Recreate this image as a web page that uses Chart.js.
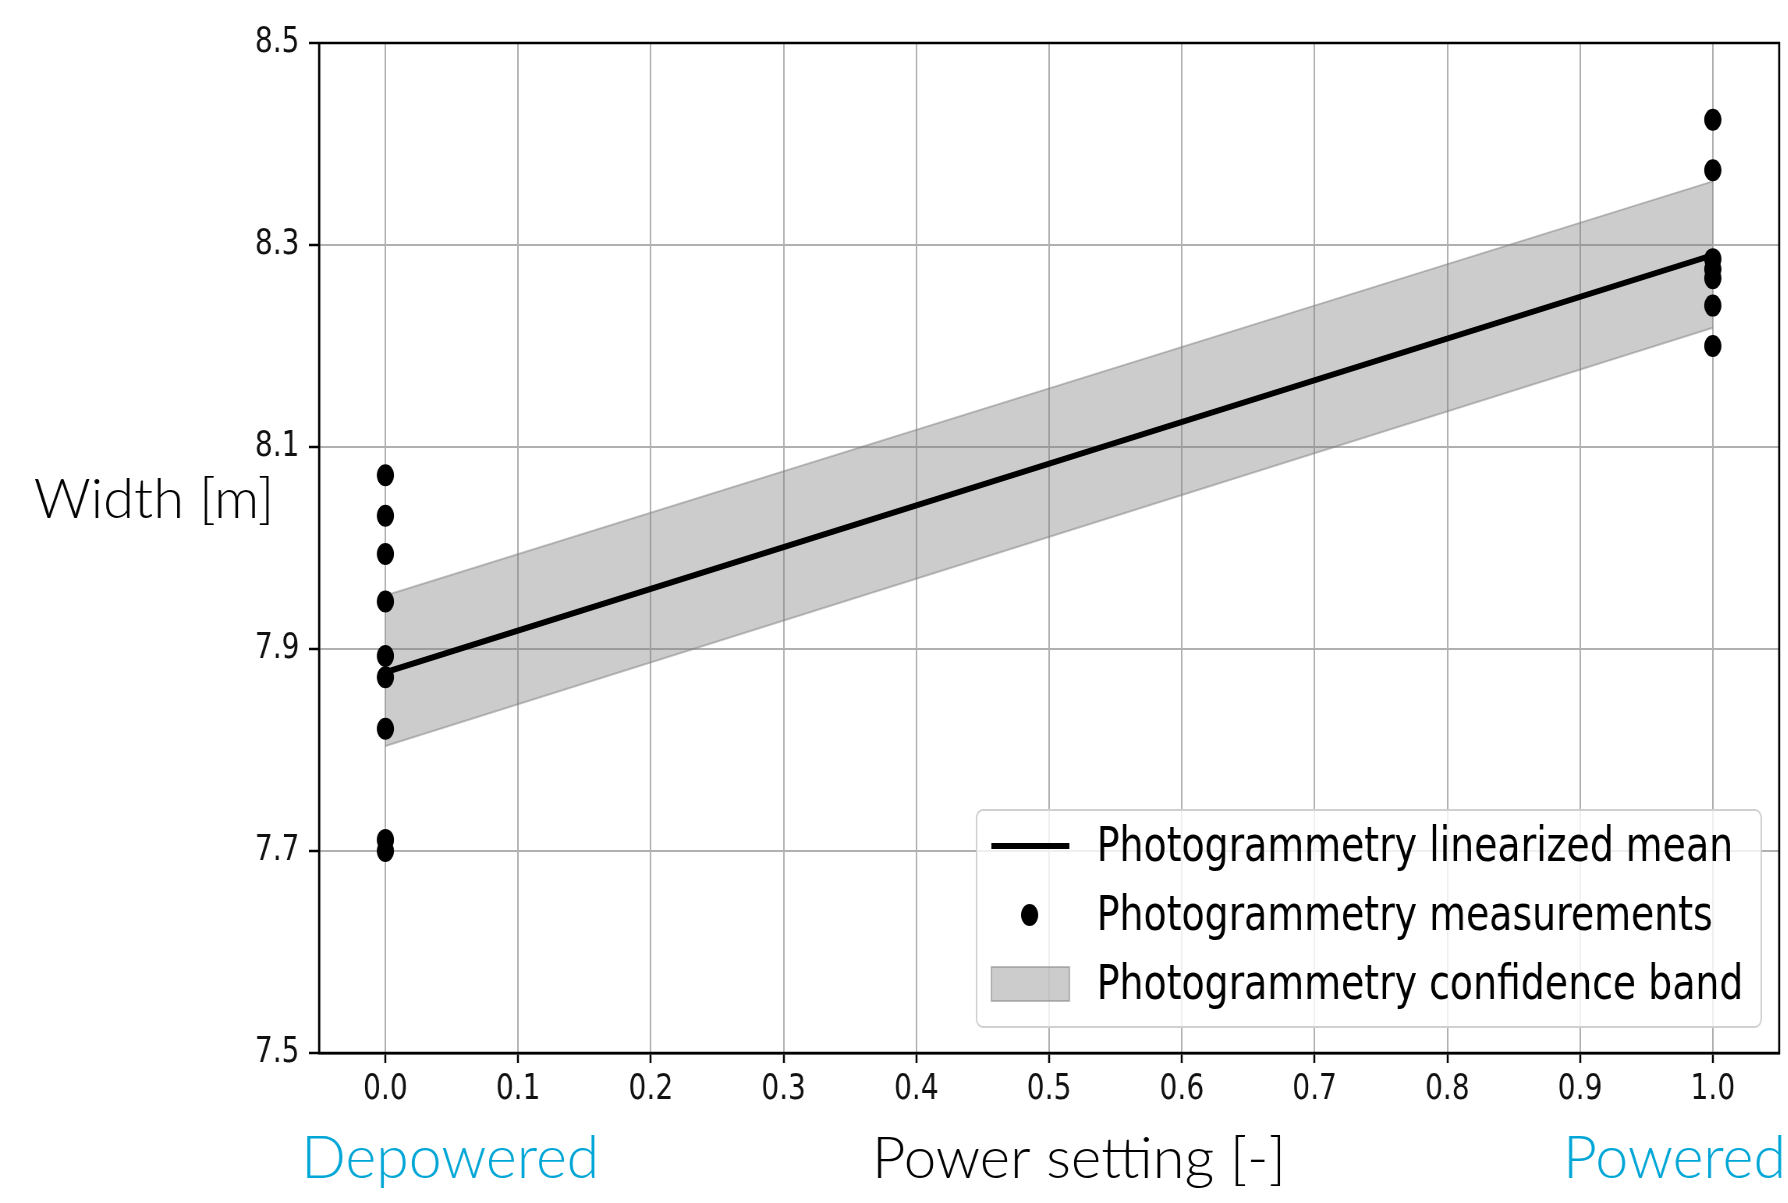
<!DOCTYPE html>
<html>
<head>
<meta charset="utf-8">
<script src="https://cdn.jsdelivr.net/npm/chart.js@4.4.1/dist/chart.umd.min.js"></script>
<style>
  html, body { margin: 0; padding: 0; background: #fff; overflow: hidden; }
  /* the source figure is squeezed sideways, so draw wide and squeeze */
  #wrap { width: 2292px; height: 1203px; transform: scaleX(0.78); transform-origin: 0 0; }
</style>
</head>
<body>
<div id="wrap"><canvas id="chart"></canvas></div>
<script>
const powerSettings = [0.0, 1.0];
const depoweredWidths = [8.072, 8.032, 7.994, 7.947, 7.893, 7.872, 7.821, 7.711, 7.700];
const poweredWidths = [8.424, 8.374, 8.286, 8.276, 8.267, 8.240, 8.200];
const meanWidth = [7.877, 8.290];
const bandUpper = [7.953, 8.363];
const bandLower = [7.804, 8.218];
const xTicks = [0.0, 0.1, 0.2, 0.3, 0.4, 0.5, 0.6, 0.7, 0.8, 0.9, 1.0];
const yTicks = [7.5, 7.7, 7.9, 8.1, 8.3, 8.5];

const SQUISH = 0.78;
const CYAN = '#00A6D6';

Chart.defaults.font.family = "'DejaVu Sans', sans-serif";

const toPoints = ys => ys.map((y, i) => ({ x: powerSettings[i], y: y }));

const measurements = [
    ...depoweredWidths.map(y => ({ x: powerSettings[0], y: y })),
    ...poweredWidths.map(y => ({ x: powerSettings[1], y: y })),
];

// text laid over the figure, not squeezed; x is given in page pixels
function drawLabel(ctx, text, pageX, baseline, align, size, color) {
    ctx.save();
    ctx.translate(pageX / SQUISH, baseline);
    ctx.scale(1 / SQUISH, 1);
    ctx.font = '300 ' + size + "px Lato, Roboto, 'Open Sans', sans-serif";
    ctx.fillStyle = color;
    ctx.textAlign = align;
    ctx.textBaseline = 'alphabetic';
    ctx.fillText(text, 0, 0);
    ctx.restore();
}

const overlay = {
    id: 'overlay',
    afterDraw(chart) {
        const ctx = chart.ctx;
        const a = chart.chartArea;
        const ds = chart.data.datasets;

        // frame on all four sides
        ctx.save();
        ctx.strokeStyle = '#000';
        ctx.lineWidth = 2.5;
        ctx.strokeRect(a.left, a.top, a.right - a.left, a.bottom - a.top);

        // legend box in lower right corner
        const w = 1006, h = 217;
        const left = a.right - 23 - w;
        const top = a.bottom - 26 - h;
        ctx.beginPath();
        ctx.roundRect(left, top, w, h, 8);
        ctx.fillStyle = 'rgba(255,255,255,0.8)';
        ctx.fill();
        ctx.strokeStyle = '#d0d0d0';
        ctx.lineWidth = 2;
        ctx.stroke();

        const rows = [top + 36, top + 105, top + 174];
        const hx0 = left + 19, hx1 = left + 119;

        // mean line
        ctx.strokeStyle = ds[1].borderColor;
        ctx.lineWidth = ds[1].borderWidth;
        ctx.beginPath();
        ctx.moveTo(hx0, rows[0]);
        ctx.lineTo(hx1, rows[0]);
        ctx.stroke();

        // measurement dot
        ctx.fillStyle = ds[0].backgroundColor;
        ctx.beginPath();
        ctx.arc(left + 68, rows[1], 11, 0, Math.PI * 2);
        ctx.fill();

        // band patch
        ctx.fillStyle = ds[2].backgroundColor;
        ctx.fillRect(hx0, rows[2] - 17, hx1 - hx0, 34);
        ctx.strokeStyle = ds[2].borderColor;
        ctx.lineWidth = 2;
        ctx.strokeRect(hx0, rows[2] - 17, hx1 - hx0, 34);

        ctx.fillStyle = '#000';
        ctx.font = "48.5px 'DejaVu Sans', sans-serif";
        ctx.textBaseline = 'middle';
        ctx.textAlign = 'left';
        [ds[1].label, ds[0].label, ds[2].label].forEach((t, i) => {
            ctx.fillText(t, left + 154, rows[i] + 2);
        });
        ctx.restore();

        drawLabel(ctx, 'Width [m]', 154, 518, 'center', 56, '#000');
        drawLabel(ctx, 'Depowered', 301, 1178, 'left', 59, CYAN);
        drawLabel(ctx, 'Power setting [-]', 872, 1178, 'left', 58, '#000');
        drawLabel(ctx, 'Powered', 1563, 1178, 'left', 59, CYAN);
    }
};

new Chart(document.getElementById('chart'), {
    type: 'scatter',
    data: {
        datasets: [
            {
                label: 'Photogrammetry measurements',
                data: measurements,
                backgroundColor: '#000',
                borderWidth: 0,
                pointRadius: 11,
            },
            {
                label: 'Photogrammetry linearized mean',
                data: toPoints(meanWidth),
                showLine: true,
                borderColor: '#000',
                borderWidth: 6,
                pointRadius: 0,
            },
            {
                label: 'Photogrammetry confidence band',
                data: toPoints(bandUpper),
                showLine: true,
                borderColor: 'rgba(128,128,128,0.5)',
                backgroundColor: 'rgba(128,128,128,0.4)',
                borderWidth: 2,
                pointRadius: 0,
                fill: '+1',
            },
            {
                data: toPoints(bandLower),
                showLine: true,
                borderColor: 'rgba(128,128,128,0.5)',
                borderWidth: 2,
                pointRadius: 0,
                fill: false,
            },
        ],
    },
    options: {
        responsive: true,
        maintainAspectRatio: false,
        animation: false,
        layout: { padding: { top: 43, right: 10, left: 0, bottom: 0 } },
        plugins: {
            legend: { display: false },
            tooltip: { enabled: false },
        },
        scales: {
            x: {
                type: 'linear',
                min: -0.05,
                max: 1.05,
                afterBuildTicks: s => { s.ticks = xTicks.map(v => ({ value: v })); },
                afterFit: s => { s.height = 150; },
                ticks: {
                    callback: v => v.toFixed(1),
                    font: { size: 36 },
                    color: '#111',
                    padding: 5,
                    maxRotation: 0,
                    autoSkip: false,
                },
                grid: { color: '#b0b0b0', lineWidth: 2, tickColor: '#000', tickLength: 10, tickWidth: 2.5 },
                border: { color: '#000', width: 2.5 },
            },
            y: {
                type: 'linear',
                min: 7.5,
                max: 8.5,
                afterBuildTicks: s => { s.ticks = yTicks.map(v => ({ value: v })); },
                afterFit: s => { s.width = 409; },
                ticks: {
                    callback: v => v.toFixed(1),
                    font: { size: 36 },
                    color: '#111',
                    padding: 12,
                    autoSkip: false,
                },
                grid: { color: '#b0b0b0', lineWidth: 2, tickColor: '#000', tickLength: 13, tickWidth: 2.5 },
                border: { color: '#000', width: 2.5 },
            },
        },
    },
    plugins: [overlay],
});
</script>
</body>
</html>
